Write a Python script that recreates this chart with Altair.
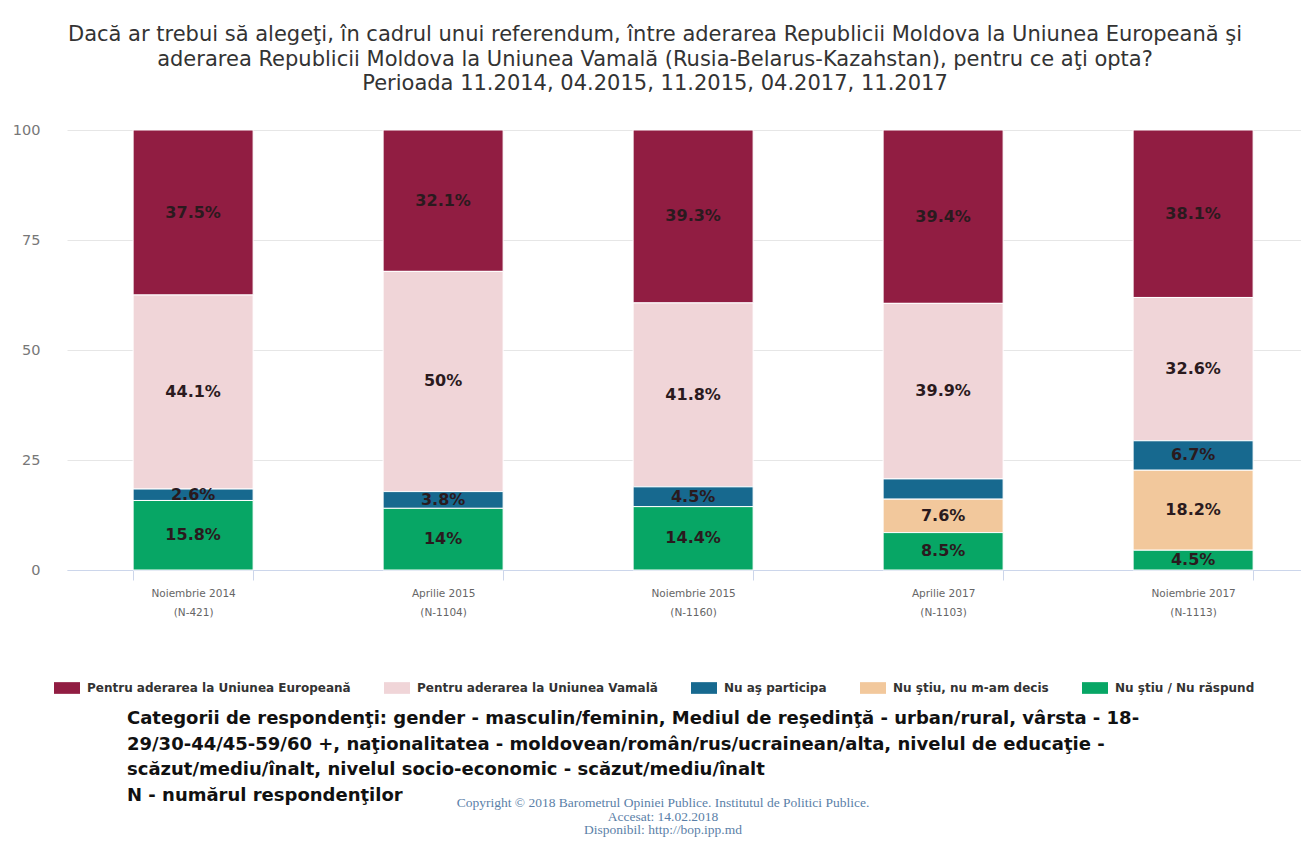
import altair as alt
import pandas as pd

# ---- data ----
periods = ["Noiembrie 2014", "Aprilie 2015", "Noiembrie 2015", "Aprilie 2017", "Noiembrie 2017"]
sample_sizes = [421, 1104, 1160, 1103, 1113]

series_names = [
    "Pentru aderarea la Uniunea Europeană",
    "Pentru aderarea la Uniunea Vamală",
    "Nu aş participa",
    "Nu ştiu, nu m-am decis",
    "Nu ştiu / Nu răspund",
]
series_colors = ["#911d42", "#f0d5d8", "#17698f", "#f2c89c", "#07a665"]

eu = [37.5, 32.1, 39.3, 39.4, 38.1]
uv = [44.1, 50.0, 41.8, 39.9, 32.6]
nu_particip = [2.6, 3.8, 4.5, 4.6, 6.7]
nu_decis = [None, None, None, 7.6, 18.2]
nu_raspund = [15.8, 14.0, 14.4, 8.5, 4.5]
series_values = [eu, uv, nu_particip, nu_decis, nu_raspund]

# labels that the original chart does not show (too small to fit)
hidden_labels = [("Aprilie 2017", "Nu aş participa")]

title_lines = [
    "Dacă ar trebui să alegeţi, în cadrul unui referendum, între aderarea Republicii Moldova la Uniunea Europeană şi",
    "aderarea Republicii Moldova la Uniunea Vamală (Rusia-Belarus-Kazahstan), pentru ce aţi opta?",
    "Perioada 11.2014, 04.2015, 11.2015, 04.2017, 11.2017",
]
footer_lines = [
    "Categorii de respondenţi: gender - masculin/feminin, Mediul de reşedinţă - urban/rural, vârsta - 18-",
    "29/30-44/45-59/60 +, naţionalitatea - moldovean/român/rus/ucrainean/alta, nivelul de educaţie -",
    "scăzut/mediu/înalt, nivelul socio-economic - scăzut/mediu/înalt",
    "N - numărul respondenţilor",
]
copyright_lines = [
    "Copyright © 2018 Barometrul Opiniei Publice. Institutul de Politici Publice.",
    "Accesat: 14.02.2018",
    "Disponibil: http://bop.ipp.md",
]

# ---- build table ----
rows = []
for s_idx, (name, vals) in enumerate(zip(series_names, series_values)):
    for p, n, v in zip(periods, sample_sizes, vals):
        if v is None:
            continue
        lbl = "" if (p, name) in hidden_labels else f"{v:g}%"
        rows.append({
            "period": f"{p}\n(N-{n})",
            "series": name,
            "value": v,
            "order": len(series_names) - s_idx,  # first series on top
            "label": lbl,
        })
df = pd.DataFrame(rows)
period_labels = [f"{p}\n(N-{n})" for p, n in zip(periods, sample_sizes)]

W, H = 1234, 440
FONT = "DejaVu Sans"

base = alt.Chart(df).transform_stack(
    stack="value",
    groupby=["period"],
    as_=["s0", "s1"],
    offset="normalize",
    sort=[alt.SortField("order", order="ascending")],
).transform_calculate(
    y0="datum.s0*100", y1="datum.s1*100", mid="(datum.s0+datum.s1)*50"
)

x_scale = alt.Scale(paddingInner=0.52, paddingOuter=0.228, align=0.58)

x_enc = alt.X(
    "period:N",
    sort=period_labels,
    scale=x_scale,
    axis=alt.Axis(
        title=None,
        labelAngle=0,
        labelExpr="split(datum.label, '\\n')",
        labelFont=FONT,
        labelFontSize=10.5,
        labelColor="#666666",
        labelLineHeight=19,
        labelPadding=8,
        domainColor="#ccd6eb",
        tickColor="#ccd6eb",
        tickSize=10,
        tickBand="extent",
        grid=False,
    ),
)

bars = base.mark_bar(stroke="white", strokeWidth=1).encode(
    x=x_enc,
    y=alt.Y(
        "y0:Q",
        scale=alt.Scale(domain=[0, 100]),
        axis=alt.Axis(
            title=None,
            values=[0, 25, 50, 75, 100],
            grid=True,
            gridColor="#e6e6e6",
            domain=False,
            ticks=False,
            labelPadding=27,
            labelFont=FONT,
            labelFontSize=14.5,
            labelColor="#777777",
        ),
    ),
    y2="y1:Q",
    color=alt.Color(
        "series:N",
        scale=alt.Scale(domain=series_names, range=series_colors),
        legend=alt.Legend(
            title=None,
            orient="none",
            direction="horizontal",
            legendX=-13,
            legendY=545,
            symbolType="M-1,-0.45L1,-0.45L1,0.45L-1,0.45Z",
            symbolSize=676,
            symbolStrokeWidth=0,
            labelFont=FONT,
            labelFontSize=12,
            labelFontWeight="bold",
            labelColor="#333333",
            labelLimit=400,
            labelOffset=7,
            columnPadding=33,
        ),
    ),
)

labels = base.mark_text(
    font=FONT, fontSize=16, fontWeight="bold", color="#2a1a1e",
    align="center", baseline="middle",
).encode(
    x=alt.X("period:N", sort=period_labels),
    y=alt.Y("mid:Q"),
    text="label:N",
)

one = pd.DataFrame({"k": [0]})
footer = alt.Chart(one).mark_text(
    text=footer_lines, font=FONT, fontSize=18, fontWeight="bold", color="#111111",
    align="left", baseline="top", lineHeight=25.5,
).encode(x=alt.value(60), y=alt.value(580))

copyright = alt.Chart(one).mark_text(
    text=copyright_lines, font="Liberation Serif", fontSize=13.5, color="#5b7fa8",
    align="center", baseline="top", lineHeight=13.5,
).encode(x=alt.value(596), y=alt.value(666))

chart = alt.layer(bars, labels, footer, copyright).properties(
    width=W,
    height=H,
    autosize=alt.AutoSizeParams(type="none"),
    padding={"left": 59, "top": 122, "right": 0, "bottom": 270},
    title=alt.TitleParams(
        text=title_lines,
        anchor="middle",
        font=FONT,
        fontSize=21,
        fontWeight="normal",
        color="#333333",
        lineHeight=24.5,
        offset=28,
        dx=-29,
    ),
).configure_view(stroke=None)

chart.save("out.html", embed_options={"renderer": "svg", "actions": False})
